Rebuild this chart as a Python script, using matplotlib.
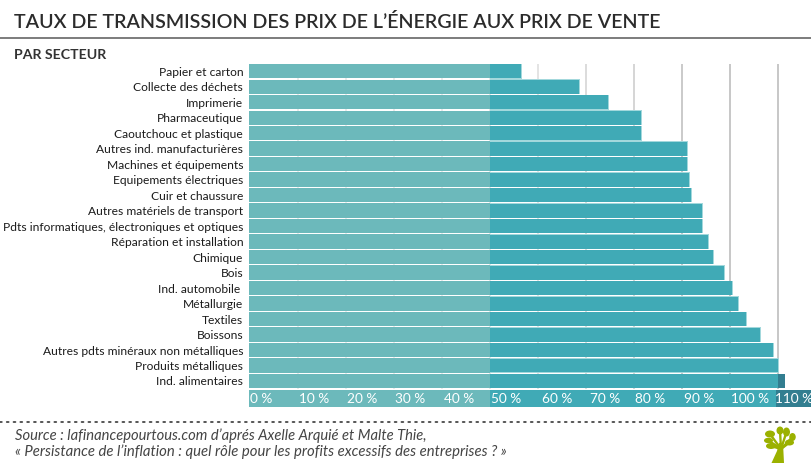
import matplotlib
matplotlib.use('Agg')
import matplotlib.pyplot as plt
from matplotlib.patches import Ellipse, Polygon

plt.rcParams['font.family'] = ['Lato', 'DejaVu Sans']

W, H = 812, 463

# secteurs, taux de transmission en %
sectors = [
    ("Papier et carton", 56.5),
    ("Collecte des déchets", 68.6),
    ("Imprimerie", 74.6),
    ("Pharmaceutique", 81.4),
    ("Caoutchouc et plastique", 81.4),
    ("Autres ind. manufacturières", 91.0),
    ("Machines et équipements", 91.0),
    ("Equipements électriques", 91.5),
    ("Cuir et chaussure", 91.8),
    ("Autres matériels de transport", 94.2),
    ("Pdts informatiques, électroniques et optiques", 94.2),
    ("Réparation et installation", 95.5),
    ("Chimique", 96.4),
    ("Bois", 98.8),
    ("Ind. automobile ", 100.4),
    ("Métallurgie", 101.7),
    ("Textiles", 103.3),
    ("Boissons", 106.3),
    ("Autres pdts minéraux non métalliques", 108.9),
    ("Produits métalliques", 110.0),
    ("Ind. alimentaires", 111.4),
]
names = [s[0] for s in sectors]
values = [s[1] for s in sectors]

LIGHT = '#6cb9bb'
MID = '#40aab6'
DARK = '#327e90'
EDGE = '#a3d8dc'

x0 = 249.5
px_per_pct = 4.805
x_max = (W - x0) / px_per_pct


def pixel_box(left, top, right, bottom):
    return [left / W, 1 - bottom / H, (right - left) / W, (bottom - top) / H]


fig = plt.figure(figsize=(W / 100, H / 100), dpi=100)

# zone des barres
ax = fig.add_axes(pixel_box(x0, 64, W, 389))
pitch = 15.49
first = 71.2
ax.set_xlim(0, x_max)
ax.set_ylim((389 - first) / pitch, (64 - first) / pitch)

grid_colors = {10: '#e6e6e6', 20: '#e6e6e6', 30: '#e6e6e6', 40: '#e6e6e6', 50: '#e2e2e2',
               60: '#dcdcdc', 70: '#d2d2d2', 80: '#cacaca', 90: '#bcbcbc', 100: '#b8b8b8', 110: '#b8b8b8'}
for tick, color in grid_colors.items():
    ax.axvline(tick, color=color, lw=1.1, zorder=1)

ypos = range(len(values))
left_part = [min(v, 50) for v in values]
mid_part = [min(v, 110) - 50 for v in values]
top_part = [max(v - 110, 0) for v in values]
# liseré clair derrière le segment moyen
ax.barh(ypos, [m + 0.2 for m in mid_part], left=50, height=0.95, color=EDGE, lw=0, zorder=2)
ax.barh(ypos, mid_part, left=50, height=0.9, color=MID, lw=0, zorder=3)
ax.barh(ypos, top_part, left=110, height=0.925, color=DARK, lw=0, zorder=3)
ax.barh(ypos, left_part, height=0.925, color=LIGHT, lw=0, zorder=3)

ax.set_yticks(list(ypos))
ax.set_yticklabels(names, fontsize=8.65, color='#1a1a1a')
ax.tick_params(axis='y', length=0, pad=4.5)
ax.set_xticks([])
for side in ax.spines.values():
    side.set_visible(False)

# bandeau de l'axe des x
band = fig.add_axes(pixel_box(x0, 390, W, 407))
band.set_xlim(0, x_max)
band.set_ylim(0, 1)
band.axvspan(0, 50, color=LIGHT, lw=0)
band.axvspan(50, 109.6, color=MID, lw=0)
band.axvspan(109.6, x_max, color=DARK, lw=0)
band.axis('off')
# décalage des labels par rapport à la graduation, en points
label_shift = {0: 0.6, 10: 1.0, 20: 0.8, 30: 0.8, 40: 1.4, 50: 0.8, 60: 2.8, 70: 2.8, 80: 0.8, 90: 1.4, 100: 0.4, 110: -2.2}
for tick, shift in label_shift.items():
    band.annotate(f"{tick} %", (tick, 0.47), xytext=(shift, 0), textcoords='offset points',
                  ha='left', va='center', color='white', fontsize=9.8)

# titres, filets, source et logo en pixels
over = fig.add_axes([0, 0, 1, 1])
over.set_xlim(0, W)
over.set_ylim(H, 0)
over.axis('off')

over.text(14, 21.5, "TAUX DE TRANSMISSION DES PRIX DE L’ÉNERGIE AUX PRIX DE VENTE",
          fontsize=14.12, fontweight='semibold', color='#2b2b2b', va='center', ha='left')
over.plot([0, W], [37.5, 37.5], color='#666666', lw=1.2)
over.text(14, 55, "PAR SECTEUR", fontsize=10.2, fontweight='bold', color='#333333', va='center', ha='left')
over.plot([0, W], [422, 422], color='#555555', lw=1.4, ls=(0, (0.9, 2.6)), dash_capstyle='round')
over.text(15, 435.5, "Source : lafinancepourtous.com d’aprés Axelle Arquié et Malte Thie,",
          fontsize=10.65, style='italic', color='#444444', va='center', ha='left')
over.text(15, 451.5, "« Persistance de l’inflation : quel rôle pour les profits excessifs des entreprises ? »",
          fontsize=10.7, style='italic', color='#444444', va='center', ha='left')

# petit arbre
TREE = '#9bb100'
over.add_patch(Polygon([(771.5, 463), (777, 451), (779, 443), (783, 443), (784, 463)], color=TREE, lw=0))
leaves = [(770, 434, 10, 7), (768.5, 440.5, 9, 5.5), (771, 446, 10, 6), (780, 430.5, 7, 8),
          (786.5, 432, 7, 9), (792.5, 437, 6.5, 8), (789.5, 442.5, 9, 6)]
for cx, cy, w, h in leaves:
    over.add_patch(Ellipse((cx, cy), w, h, color=TREE, lw=0))
    over.plot([781, cx], [449, cy], color=TREE, lw=1.7, solid_capstyle='round')

fig.savefig('out.png', dpi=100)
